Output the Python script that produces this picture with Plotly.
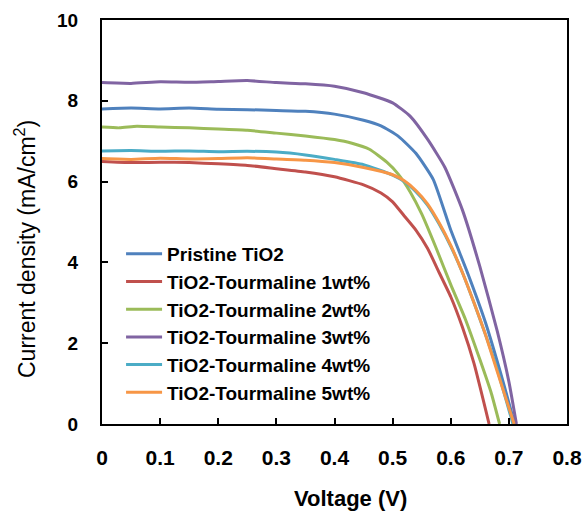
import plotly.graph_objects as go

# ---- data ----
names = ["Pristine TiO2", "TiO2-Tourmaline 1wt%", "TiO2-Tourmaline 2wt%",
         "TiO2-Tourmaline 3wt%", "TiO2-Tourmaline 4wt%", "TiO2-Tourmaline 5wt%"]
colors = ["#4F81BD", "#C0504D", "#9BBB59", "#8064A2", "#4BACC6", "#F79646"]

x_pristine = [0, 0.05, 0.1, 0.15, 0.2, 0.25, 0.3, 0.35, 0.4, 0.45, 0.48, 0.51, 0.54, 0.57, 0.6, 0.63, 0.66, 0.69, 0.71]
y_pristine = [7.80, 7.82, 7.80, 7.82, 7.79, 7.78, 7.76, 7.74, 7.67, 7.52, 7.38, 7.12, 6.70, 6.05, 4.80, 3.70, 2.50, 1.05, 0.0]

x_1wt = [0, 0.05, 0.1, 0.15, 0.2, 0.25, 0.3, 0.35, 0.4, 0.45, 0.48, 0.5, 0.52, 0.54, 0.56, 0.58, 0.6, 0.62, 0.64, 0.666]
y_1wt = [6.50, 6.47, 6.48, 6.47, 6.44, 6.40, 6.32, 6.24, 6.12, 5.92, 5.72, 5.50, 5.15, 4.80, 4.35, 3.75, 3.15, 2.40, 1.50, 0.0]

x_2wt = [0, 0.03, 0.06, 0.1, 0.15, 0.2, 0.25, 0.3, 0.35, 0.4, 0.43, 0.46, 0.49, 0.51, 0.53, 0.55, 0.575, 0.6, 0.625, 0.65, 0.67, 0.684]
y_2wt = [7.35, 7.33, 7.37, 7.35, 7.33, 7.30, 7.27, 7.20, 7.13, 7.04, 6.95, 6.80, 6.48, 6.18, 5.75, 5.20, 4.35, 3.45, 2.60, 1.60, 0.75, 0.0]

x_3wt = [0, 0.05, 0.1, 0.15, 0.2, 0.25, 0.3, 0.35, 0.4, 0.45, 0.5, 0.53, 0.56, 0.59, 0.62, 0.65, 0.68, 0.7, 0.713]
y_3wt = [8.45, 8.43, 8.47, 8.46, 8.48, 8.50, 8.45, 8.42, 8.36, 8.20, 7.95, 7.62, 7.05, 6.35, 5.30, 3.90, 2.30, 1.05, 0.0]

x_4wt = [0, 0.05, 0.1, 0.15, 0.2, 0.25, 0.3, 0.35, 0.4, 0.45, 0.5, 0.52, 0.54, 0.56, 0.58, 0.6, 0.62, 0.64, 0.66, 0.68, 0.707]
y_4wt = [6.76, 6.77, 6.75, 6.76, 6.74, 6.75, 6.73, 6.66, 6.55, 6.42, 6.16, 6.00, 5.75, 5.42, 4.95, 4.40, 3.75, 3.00, 2.20, 1.35, 0.0]

x_5wt = [0, 0.05, 0.1, 0.15, 0.2, 0.25, 0.3, 0.35, 0.4, 0.45, 0.5, 0.52, 0.54, 0.56, 0.58, 0.6, 0.62, 0.64, 0.66, 0.68, 0.709]
y_5wt = [6.57, 6.55, 6.58, 6.56, 6.57, 6.59, 6.56, 6.53, 6.47, 6.35, 6.17, 6.02, 5.78, 5.45, 4.98, 4.42, 3.75, 3.00, 2.20, 1.30, 0.0]

x_ticks = [0, 0.1, 0.2, 0.3, 0.4, 0.5, 0.6, 0.7, 0.8]
x_ticklabels = ["0", "0.1", "0.2", "0.3", "0.4", "0.5", "0.6", "0.7", "0.8"]
y_ticks = [0, 2, 4, 6, 8, 10]
x_title = "Voltage (V)"
y_title = "Current density (mA/cm<sup>2</sup>)"

xs = [x_pristine, x_1wt, x_2wt, x_3wt, x_4wt, x_5wt]
ys = [y_pristine, y_1wt, y_2wt, y_3wt, y_4wt, y_5wt]

FONT = "Liberation Sans, Arial, sans-serif"
W, H = 584, 511
# plot box in page pixels: left 102, right 567, top 20, bottom 424
ML, MT = 102, 20
MR = W - 567
MB = H - 424
PW, PH = W - ML - MR, H - MT - MB


def px_x(page_x):
    return (page_x - ML) / PW


def px_y(page_y):
    return ((H - MB) - page_y) / PH


fig = go.Figure()
for n, c, x, y in zip(names, colors, xs, ys):
    fig.add_trace(go.Scatter(x=x, y=y, mode="lines", name=n,
                             line=dict(color=c, width=3, shape="spline", smoothing=0.5)))

fig.add_annotation(text=x_title, xref="paper", yref="paper",
                   x=px_x(350), y=px_y(498),
                   xanchor="center", yanchor="middle", showarrow=False,
                   font=dict(family=FONT, size=22, color="black", weight="bold"))
fig.add_annotation(text=y_title, xref="paper", yref="paper", textangle=-90,
                   x=px_x(25), y=px_y(249),
                   xanchor="center", yanchor="middle", showarrow=False,
                   font=dict(family=FONT, size=23, color="black"))

fig.update_layout(
    width=W, height=H,
    margin=dict(l=ML, r=MR, t=MT, b=MB),
    plot_bgcolor="white", paper_bgcolor="white",
    font=dict(family=FONT, color="black"),
    showlegend=True,
    legend=dict(x=0.041, y=0.468, xanchor="left", yanchor="top",
                bgcolor="rgba(0,0,0,0)", font=dict(family=FONT, size=19, color="black", weight="bold"),
                tracegroupgap=0, itemwidth=36),
    xaxis=dict(range=[0, 0.8], tickvals=x_ticks, ticktext=x_ticklabels, automargin=False,
               showgrid=False, zeroline=False, showline=True, linecolor="black", linewidth=2,
               mirror=True, ticks="inside", ticklen=6, tickwidth=1.5, tickcolor="black",
               tickfont=dict(family=FONT, size=21, weight="bold"), ticklabelstandoff=14),
    yaxis=dict(range=[0, 10], tickvals=y_ticks, automargin=False,
               showgrid=False, zeroline=False, showline=True, linecolor="black", linewidth=2,
               mirror=True, ticks="inside", ticklen=6, tickwidth=1.5, tickcolor="black",
               tickfont=dict(family=FONT, size=19, weight="bold"), ticklabelstandoff=18),
)

fig.write_html("out.html", config={"displayModeBar": False},
               post_script="document.body.style.margin='0px';document.body.style.overflow='hidden';")
